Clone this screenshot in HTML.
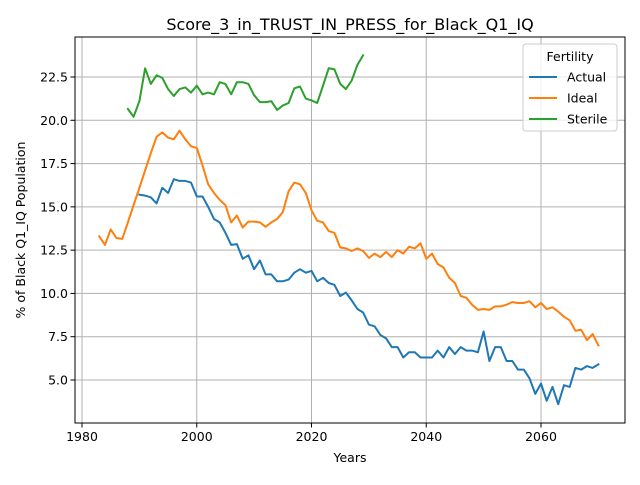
<!DOCTYPE html>
<html><head><meta charset="utf-8"><style>body{margin:0;background:#fff}svg{font-family:"DejaVu Sans","Liberation Sans",sans-serif}</style></head>
<body>
<svg id="chart" width="640" height="480">
<rect width="640" height="480" fill="#fff"/>
<g id="grid"></g><g id="series"></g><g id="axes"></g>
</svg>
<script>
const xTicks=[1980,2000,2020,2040,2060];
const yTicks=[5.0,7.5,10.0,12.5,15.0,17.5,20.0,22.5];
const seriesNames=["Actual","Ideal","Sterile"];
const actualStart=1990;
const actualVals=[15.7,15.65,15.55,15.2,16.1,15.8,16.6,16.5,16.5,16.4,15.6,15.6,15.0,14.3,14.1,13.5,12.8,12.85,12.0,12.2,11.4,11.9,11.1,11.1,10.7,10.7,10.8,11.2,11.4,11.2,11.3,10.7,10.9,10.6,10.5,9.85,10.05,9.6,9.1,8.9,8.2,8.1,7.6,7.4,6.9,6.9,6.3,6.6,6.6,6.3,6.3,6.3,6.7,6.3,6.9,6.5,6.9,6.7,6.7,6.6,7.8,6.1,6.9,6.9,6.1,6.1,5.6,5.6,5.1,4.2,4.8,3.8,4.6,3.6,4.7,4.6,5.7,5.6,5.8,5.7,5.9];
const idealStart=1983;
const idealVals=[13.3,12.8,13.7,13.2,13.15,14.1,15.1,16.1,17.1,18.1,19.05,19.3,19.0,18.9,19.4,18.9,18.5,18.4,17.4,16.3,15.8,15.4,15.1,14.1,14.5,13.8,14.15,14.15,14.1,13.85,14.1,14.3,14.7,15.9,16.4,16.3,15.8,14.8,14.2,14.1,13.6,13.5,12.65,12.6,12.45,12.6,12.45,12.05,12.3,12.1,12.4,12.1,12.5,12.3,12.7,12.6,12.9,12.0,12.3,11.7,11.5,10.9,10.6,9.85,9.75,9.35,9.05,9.1,9.05,9.25,9.25,9.35,9.5,9.45,9.45,9.55,9.2,9.45,9.1,9.2,8.95,8.65,8.45,7.85,7.9,7.3,7.65,7.0];
const sterileStart=1988;
const sterileVals=[20.65,20.2,21.1,23.0,22.1,22.6,22.45,21.8,21.4,21.8,21.9,21.6,22.0,21.5,21.6,21.5,22.2,22.1,21.5,22.2,22.2,22.1,21.45,21.05,21.05,21.1,20.6,20.85,21.0,21.85,21.95,21.25,21.15,21.0,22.0,23.0,22.95,22.1,21.8,22.3,23.2,23.75];
const colors=["#1f77b4","#ff7f0e","#2ca02c"];
const L=75,R=625,T=37,B=423;
const X=v=>82+(v-1980)*459/80;
const Y=v=>380-(v-5)*303/17.5;
const NS="http://www.w3.org/2000/svg";
function mk(tag,attrs,parent,text){const e=document.createElementNS(NS,tag);for(const k in attrs)e.setAttribute(k,attrs[k]);if(text!==undefined)e.textContent=text;parent.appendChild(e);return e;}
const grid=document.getElementById('grid'),ser=document.getElementById('series'),ax=document.getElementById('axes');
xTicks.forEach(t=>{
 const l=mk('line',{x1:X(t),x2:X(t),y1:T,y2:B,stroke:'#b0b0b0','stroke-width':1},grid);
 
 
 mk('line',{x1:X(t),x2:X(t),y1:B,y2:B+4.5,stroke:'#000','stroke-width':1},ax);
 const tx=mk('text',{x:X(t),y:B+18,'text-anchor':'middle','font-size':12.5},ax,t);
 
 
});
yTicks.forEach(t=>{
 const l=mk('line',{x1:L,x2:R,y1:Y(t),y2:Y(t),stroke:'#b0b0b0','stroke-width':1},grid);
 
 
 mk('line',{x1:L-4.5,x2:L,y1:Y(t),y2:Y(t),stroke:'#000','stroke-width':1},ax);
 const tx=mk('text',{x:L-7,y:Y(t)+4.5,'text-anchor':'end','font-size':12.5},ax,t.toFixed(1));
 
 
});
const data=[[actualStart,actualVals],[idealStart,idealVals],[sterileStart,sterileVals]];
data.forEach((d,i)=>{
 const pts=d[1].map((v,j)=>X(d[0]+j).toFixed(1)+','+Y(v).toFixed(1)).join(' ');
 const p=mk('polyline',{points:pts,fill:'none',stroke:colors[i],'stroke-width':2,'stroke-linejoin':'round','stroke-linecap':'square'},ser);
 
 
});
const fr=mk('rect',{x:L,y:T,width:R-L,height:B-T,fill:'none',stroke:'#000','stroke-width':1},ax);


const ti=mk('text',{x:350,y:30,'text-anchor':'middle','font-size':16},ax,'Score_3_in_TRUST_IN_PRESS_for_Black_Q1_IQ');


const xl=mk('text',{x:350,y:462,'text-anchor':'middle','font-size':12.5},ax,'Years');


const yl=mk('text',{x:0,y:0,'text-anchor':'middle','font-size':12.5,transform:'translate(25,230) rotate(-90)'},ax,'% of Black Q1_IQ Population');


const lg=mk('g',{},ax);


mk('rect',{x:523,y:44,width:94,height:87,rx:3,fill:'#fff','fill-opacity':0.8,stroke:'#ccc'},lg);
mk('text',{x:570,y:61,'text-anchor':'middle','font-size':12.5},lg,'Fertility');
seriesNames.forEach((n,i)=>{
 const y=77+i*21;
 const e=mk('g',{},lg);
 
 
 mk('line',{x1:529,x2:557,y1:y,y2:y,stroke:colors[i],'stroke-width':2},e);
 mk('text',{x:567,y:y+4.5,'font-size':12.5},e,n);
});
</script>
</body></html>
